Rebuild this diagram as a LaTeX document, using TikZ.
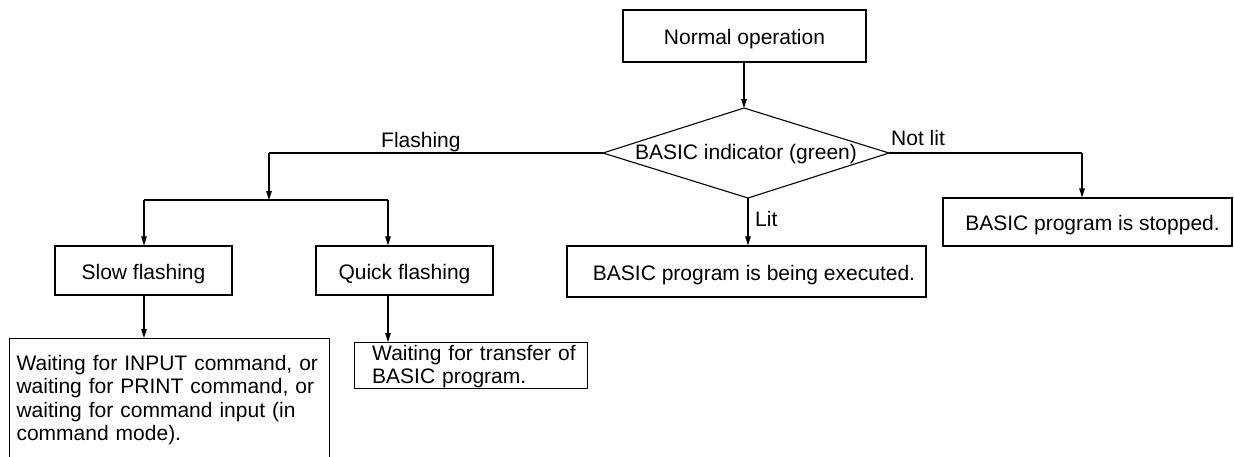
\documentclass[tikz,border=0pt]{standalone}
\usepackage{fontspec}
\setmainfont{Liberation Sans}
\usetikzlibrary{arrows.meta}
\begin{document}
\begin{tikzpicture}[x=1pt,y=-1pt,
  txt/.style={font=\fontsize{21}{23.5}\selectfont},
  box/.style={draw, line width=1.1pt, inner sep=0pt, txt},
  onebox/.style={box, text height=17pt, text depth=0pt},
  lbl/.style={txt, inner sep=0pt},
  arr/.style={-{Triangle[length=9pt,width=5.5pt]}, line width=1.1pt},
  ln/.style={line width=1.1pt}]
\useasboundingbox (0,0) rectangle (1234,456);
% boxes
\node[onebox, minimum width=243pt, minimum height=52pt] (normal) at (744.5,36) {Normal operation};
\node[onebox, minimum width=177pt, minimum height=49pt] (slow) at (143.5,270.5) {Slow flashing};
\node[onebox, minimum width=177pt, minimum height=49pt] (quick) at (404.5,270.5) {Quick flashing};
\node[onebox, minimum width=359pt, minimum height=51pt] (exec) at (746.5,271.5) {\hspace*{15pt}BASIC program is being executed.};
\node[onebox, minimum width=289pt, minimum height=48pt] (stop) at (1087.5,222) {\hspace*{10pt}BASIC program is stopped.};
\node[box, anchor=north west, text width=306pt, align=left, inner xsep=7pt, inner ysep=16.5pt] (wait) at (9,338)
  {Waiting for INPUT command, or\\ waiting for PRINT command, or\\ waiting for command input (in\\ command mode).};
\node[box, anchor=north west, minimum width=233pt, minimum height=46pt] (xfer) at (354,342) {};
\node[lbl, anchor=north west, text width=215pt, align=left] (xfertext) at (372,345)
  {Waiting for transfer of\\ BASIC program.};
% decision diamond
\coordinate (dt) at (744,108);
\coordinate (dr) at (889,153);
\coordinate (db) at (748,198);
\coordinate (dl) at (603,153);
\draw[ln, line join=miter] (dt) -- (dr) -- (db) -- (dl) -- cycle;
\node[lbl] (dtext) at (746,154) {BASIC indicator (green)};
% connectors
\draw[arr] (normal.south -| dt) -- (dt);
\coordinate (fl) at (269,153);
\coordinate (split) at (269,200);
\coordinate (sl) at (144,200);
\coordinate (sq) at (388,200);
\draw[ln] (dl) -- (fl);
\draw[arr] (fl) -- (split);
\draw[ln] (sl) -- (sq);
\draw[arr] (sl) -- (sl |- slow.north);
\draw[arr] (sq) -- (sq |- quick.north);
\draw[arr] (slow.south -| sl) -- (sl |- wait.north);
\draw[arr] (quick.south -| sq) -- (sq |- xfer.north);
\draw[arr] (db) -- (db |- exec.north);
\coordinate (nl) at (1082,153);
\draw[ln] (dr) -- (nl);
\draw[arr] (nl) -- (nl |- stop.north);
% labels
\node[lbl, anchor=base west] (lflash) at (381,147) {Flashing};
\node[lbl, anchor=base west] (lnot) at (891,145) {Not lit};
\node[lbl, anchor=base west] (llit) at (755,226) {Lit};
\end{tikzpicture}
\end{document}
